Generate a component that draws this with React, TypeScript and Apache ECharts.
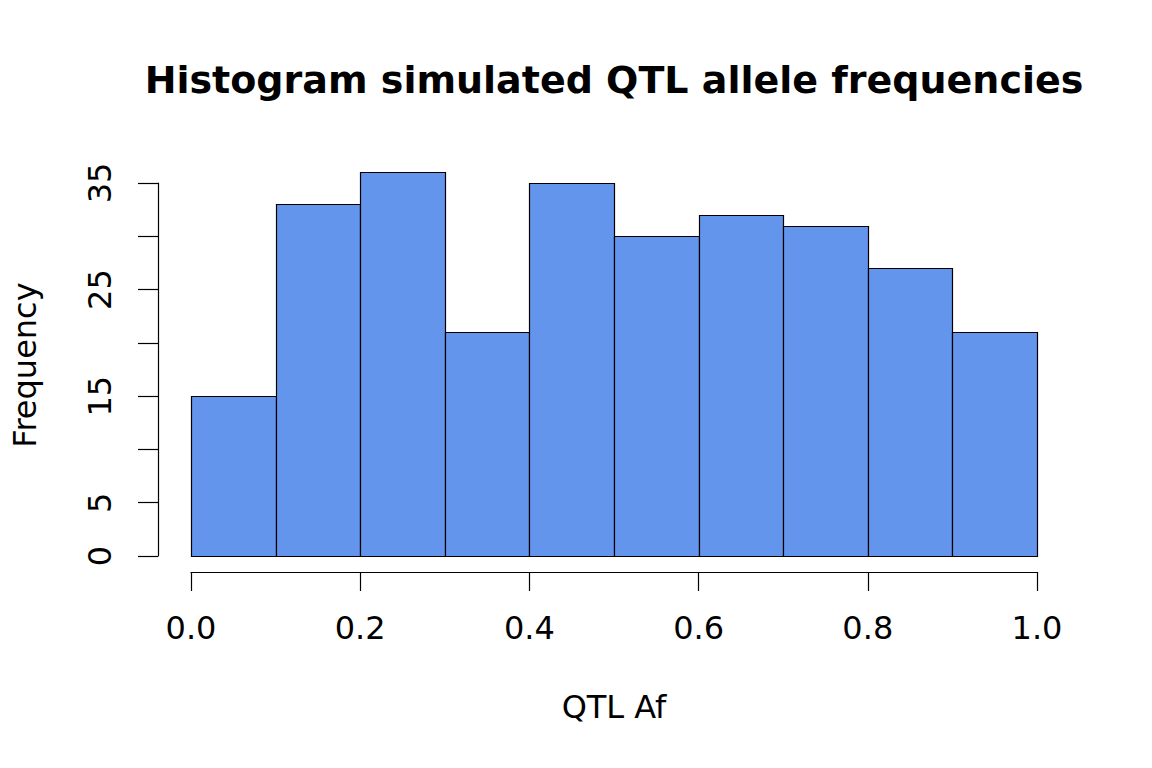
import React, { useEffect, useRef } from "react";
import * as echarts from "echarts";

const binStarts = [0.0, 0.1, 0.2, 0.3, 0.4, 0.5, 0.6, 0.7, 0.8, 0.9];
const binEnds = [0.1, 0.2, 0.3, 0.4, 0.5, 0.6, 0.7, 0.8, 0.9, 1.0];
const counts = [15, 33, 36, 21, 35, 30, 32, 31, 27, 21];
const yLabelShown = [0, 5, 15, 25, 35];

const titleText = "Histogram simulated QTL allele frequencies";
const xTitle = "QTL Af";
const yTitle = "Frequency";

const FONT = "DejaVu Sans";

export default function App() {
  const ref = useRef<HTMLDivElement>(null);
  useEffect(() => {
    document.body.style.margin = "0";
    const chart = echarts.init(ref.current!, null, { renderer: "svg" });
    const data = binStarts.map((s, i) => [s, binEnds[i], counts[i]]);
    const unit = 373 / 35;
    const mainHeight = 40 * unit;
    chart.setOption({
      animation: false,
      backgroundColor: "#ffffff",
      grid: [
        { left: 191, width: 846, top: 556 - mainHeight, height: mainHeight },
        { left: 158, width: 10, top: 183, height: 373 },
      ],
      xAxis: [
        {
          gridIndex: 0,
          type: "value",
          min: 0,
          max: 1,
          interval: 0.2,
          offset: 16,
          position: "bottom",
          axisLine: { show: true, onZero: false, lineStyle: { color: "#000", width: 1.2 } },
          axisTick: { show: true, length: 19, lineStyle: { color: "#000", width: 1.2 } },
          axisLabel: {
            show: true,
            margin: 40,
            color: "#000",
            fontFamily: FONT,
            fontSize: 32,
            formatter: (v: number) => v.toFixed(1),
          },
          splitLine: { show: false },
        },
        {
          gridIndex: 1,
          type: "value",
          show: false,
        },
      ],
      yAxis: [
        {
          gridIndex: 0,
          type: "value",
          min: 0,
          max: 40,
          show: false,
        },
        {
          gridIndex: 1,
          type: "value",
          min: 0,
          max: 35,
          interval: 5,
          position: "left",
          axisLine: { show: true, onZero: false, lineStyle: { color: "#000", width: 1.2 } },
          axisTick: { show: true, length: 20, lineStyle: { color: "#000", width: 1.2 } },
          axisLabel: {
            show: true,
            rotate: 90,
            margin: 42,
            color: "#000",
            fontFamily: FONT,
            fontSize: 32,
            formatter: (v: number) => (yLabelShown.includes(v) ? String(v) : ""),
          },
          splitLine: { show: false },
        },
      ],
      series: [
        {
          type: "custom",
          xAxisIndex: 0,
          yAxisIndex: 0,
          data,
          renderItem: (params: any, api: any) => {
            const p0 = api.coord([api.value(0), api.value(2)]);
            const p1 = api.coord([api.value(1), 0]);
            return {
              type: "rect",
              shape: {
                x: Math.round(p0[0]) + 0.5,
                y: Math.round(p0[1]) + 0.5,
                width: Math.round(p1[0]) - Math.round(p0[0]),
                height: Math.round(p1[1]) - Math.round(p0[1]),
              },
              style: { fill: "#6495ED", stroke: "#000", lineWidth: 1.2 },
            };
          },
        },
      ],
      graphic: [
        {
          type: "text",
          x: 614,
          y: 80,
          style: {
            text: titleText,
            fontFamily: FONT,
            fontWeight: "bold",
            fontSize: 38,
            fill: "#000",
            textAlign: "center",
            textVerticalAlign: "middle",
          },
        },
        {
          type: "text",
          x: 614,
          y: 707,
          style: {
            text: xTitle,
            fontFamily: FONT,
            fontSize: 32,
            fill: "#000",
            textAlign: "center",
            textVerticalAlign: "middle",
          },
        },
        {
          type: "text",
          x: 25,
          y: 365,
          rotation: Math.PI / 2,
          style: {
            text: yTitle,
            fontFamily: FONT,
            fontSize: 32,
            fill: "#000",
            textAlign: "center",
            textVerticalAlign: "middle",
          },
        },
      ],
    });
    return () => chart.dispose();
  }, []);
  return (
    <div
      ref={ref}
      style={{ position: "fixed", left: 0, top: 0, width: 1152, height: 768 }}
    />
  );
}
